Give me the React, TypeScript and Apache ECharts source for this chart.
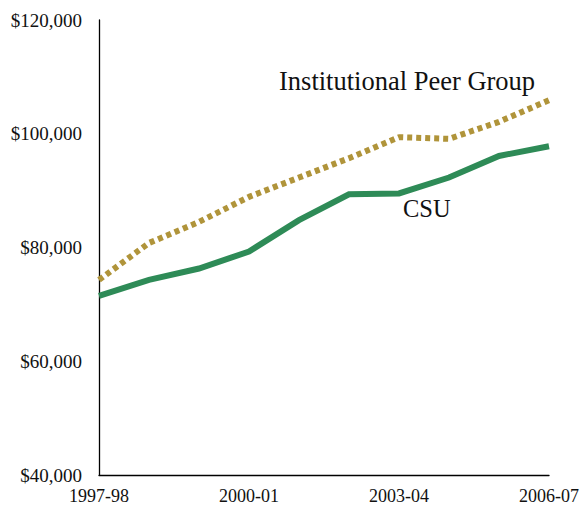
import React, { useEffect, useRef } from "react";
import * as echarts from "echarts";

const categories = ["1997-98", "1998-99", "1999-00", "2000-01", "2001-02", "2002-03", "2003-04", "2004-05", "2005-06", "2006-07"];
const shownLabels = ["1997-98", "2000-01", "2003-04", "2006-07"];
const csuValues = [71500, 74300, 76300, 79300, 84800, 89350, 89500, 92300, 96100, 97800];
const peerValues = [74300, 80800, 84500, 88900, 92300, 95700, 99400, 99100, 102100, 105900];
const seriesNames = ["CSU", "Institutional Peer Group"];

const FONT = "'Liberation Serif', 'Times New Roman', serif";

export default function App() {
  const ref = useRef<HTMLDivElement>(null);
  useEffect(() => {
    if (!ref.current) return;
    const chart = echarts.init(ref.current, undefined, { renderer: "svg" });
    chart.setOption({
      animation: false,
      backgroundColor: "#ffffff",
      grid: { left: 99, right: 29, top: 20, bottom: 30, containLabel: false },
      xAxis: {
        type: "category",
        data: categories,
        boundaryGap: false,
        axisLine: { show: true, lineStyle: { color: "#000", width: 1.3 } },
        axisTick: { show: false },
        splitLine: { show: false },
        axisLabel: {
          interval: 0,
          margin: 12,
          fontFamily: FONT,
          fontSize: 18,
          color: "#111",
          formatter: (v: string) => (shownLabels.includes(v) ? v : ""),
        },
      },
      yAxis: {
        type: "value",
        min: 40000,
        max: 120000,
        interval: 20000,
        axisLine: { show: true, lineStyle: { color: "#000", width: 1.3 } },
        axisTick: { show: false },
        splitLine: { show: false },
        axisLabel: {
          margin: 17,
          fontFamily: FONT,
          fontSize: 19,
          color: "#111",
          formatter: (v: number) => "$" + v.toLocaleString("en-US"),
        },
      },
      series: [
        {
          name: seriesNames[0],
          type: "line",
          data: csuValues,
          symbol: "none",
          lineStyle: { color: "#2E8B57", width: 6, cap: "butt", join: "miter" },
        },
        {
          name: seriesNames[1],
          type: "line",
          data: peerValues,
          symbol: "none",
          lineStyle: { color: "#B0943A", width: 6, type: [5, 4], cap: "butt" },
        },
      ],
      graphic: [
        {
          type: "text",
          left: 279,
          top: 67,
          style: { text: seriesNames[1], font: `26.5px ${FONT}`, fill: "#111" },
        },
        {
          type: "text",
          left: 403,
          top: 196,
          style: { text: seriesNames[0], font: `24.5px ${FONT}`, fill: "#111" },
        },
      ],
    });
    return () => chart.dispose();
  }, []);
  return <div ref={ref} style={{ width: 582, height: 505, position: "absolute", left: 0, top: 0 }} />;
}
